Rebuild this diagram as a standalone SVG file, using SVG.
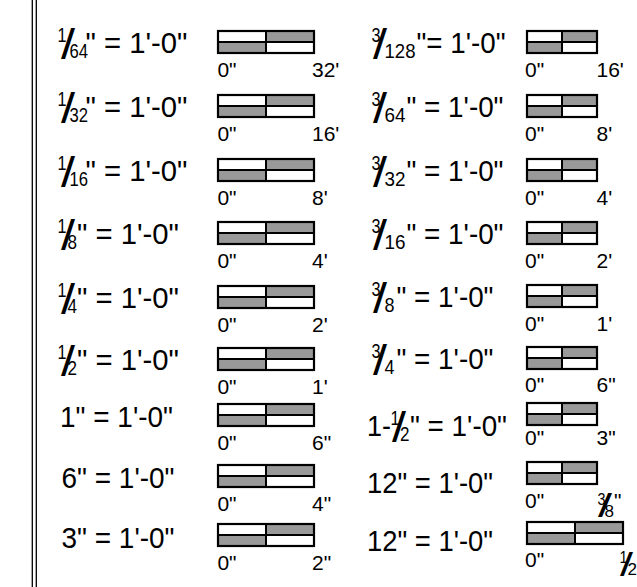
<svg xmlns="http://www.w3.org/2000/svg" xmlns:xlink="http://www.w3.org/1999/xlink" width="637" height="587" viewBox="0 0 637 587">
<style>
text{font-family:"Liberation Sans",Arial,sans-serif;fill:#000}
.m{font-size:30px}
.f{font-size:21px}
.sl{font-size:42px}
.lb{font-size:21px}
.s17{font-size:17px}
.sl2{font-size:33px}
.o{fill:none;stroke:#000;stroke-width:2.2}
.w{fill:#fff}
.g{fill:#999}
.d{stroke:#000;stroke-width:2}
.bd{stroke:#000;stroke-width:1.3}
</style>
<defs>
<g id="barL">
<rect class="w" x="1" y="1" width="96" height="22"/>
<rect class="g" x="49" y="1" width="48" height="11"/>
<rect class="g" x="1" y="12" width="48" height="11"/>
<line class="d" x1="49" y1="1" x2="49" y2="23"/>
<line class="d" x1="1" y1="12" x2="97" y2="12"/>
<rect class="o" x="1" y="1" width="96" height="22"/>
</g>
<g id="barR">
<rect class="w" x="1" y="1" width="70" height="22"/>
<rect class="g" x="36" y="1" width="35" height="11"/>
<rect class="g" x="1" y="12" width="35" height="11"/>
<line class="d" x1="36" y1="1" x2="36" y2="23"/>
<line class="d" x1="1" y1="12" x2="71" y2="12"/>
<rect class="o" x="1" y="1" width="70" height="22"/>
</g>
</defs>
<g id="border">
<line class="bd" x1="32.3" y1="0" x2="32.3" y2="587"/>
<line class="bd" x1="36.3" y1="0" x2="36.3" y2="587"/>
</g>
<g id="connectors"/>

<!-- Left column -->
<g id="L1">
<text class="m"><tspan class="f" x="57.5" y="42" textLength="9" lengthAdjust="spacingAndGlyphs">1</tspan><tspan class="sl" x="61" y="59" textLength="14" lengthAdjust="spacingAndGlyphs">/</tspan><tspan class="f" x="69.5" y="58" textLength="18.5" lengthAdjust="spacingAndGlyphs">64</tspan><tspan x="85.5" y="53" textLength="102" lengthAdjust="spacingAndGlyphs">" = 1'-0"</tspan></text>
<use xlink:href="#barL" x="217" y="30"/>
<text class="lb" x="217.4" y="77">0"</text><text class="lb" x="312" y="77">32'</text>
</g>
<g id="L2">
<text class="m"><tspan class="f" x="57.5" y="106" textLength="9" lengthAdjust="spacingAndGlyphs">1</tspan><tspan class="sl" x="61" y="123" textLength="14" lengthAdjust="spacingAndGlyphs">/</tspan><tspan class="f" x="69.5" y="122" textLength="18.5" lengthAdjust="spacingAndGlyphs">32</tspan><tspan x="85.5" y="117" textLength="102" lengthAdjust="spacingAndGlyphs">" = 1'-0"</tspan></text>
<use xlink:href="#barL" x="217" y="94"/>
<text class="lb" x="217.4" y="141">0"</text><text class="lb" x="312" y="141">16'</text>
</g>
<g id="L3">
<text class="m"><tspan class="f" x="57.5" y="170" textLength="9" lengthAdjust="spacingAndGlyphs">1</tspan><tspan class="sl" x="61" y="187" textLength="14" lengthAdjust="spacingAndGlyphs">/</tspan><tspan class="f" x="69.5" y="186" textLength="18.5" lengthAdjust="spacingAndGlyphs">16</tspan><tspan x="85.5" y="181" textLength="102" lengthAdjust="spacingAndGlyphs">" = 1'-0"</tspan></text>
<use xlink:href="#barL" x="217" y="158"/>
<text class="lb" x="217.4" y="205">0"</text><text class="lb" x="312" y="205">8'</text>
</g>
<g id="L4">
<text class="m"><tspan class="f" x="57.5" y="233" textLength="9" lengthAdjust="spacingAndGlyphs">1</tspan><tspan class="sl" x="61" y="250" textLength="14" lengthAdjust="spacingAndGlyphs">/</tspan><tspan class="f" x="67.5" y="249" textLength="9.5" lengthAdjust="spacingAndGlyphs">8</tspan><tspan x="77" y="244" textLength="102" lengthAdjust="spacingAndGlyphs">" = 1'-0"</tspan></text>
<use xlink:href="#barL" x="217" y="221"/>
<text class="lb" x="217.4" y="268">0"</text><text class="lb" x="312" y="268">4'</text>
</g>
<g id="L5">
<text class="m"><tspan class="f" x="57.5" y="297" textLength="9" lengthAdjust="spacingAndGlyphs">1</tspan><tspan class="sl" x="61" y="314" textLength="14" lengthAdjust="spacingAndGlyphs">/</tspan><tspan class="f" x="67.5" y="313" textLength="9.5" lengthAdjust="spacingAndGlyphs">4</tspan><tspan x="77" y="308" textLength="102" lengthAdjust="spacingAndGlyphs">" = 1'-0"</tspan></text>
<use xlink:href="#barL" x="217" y="285"/>
<text class="lb" x="217.4" y="332">0"</text><text class="lb" x="312" y="332">2'</text>
</g>
<g id="L6">
<text class="m"><tspan class="f" x="57.5" y="359" textLength="9" lengthAdjust="spacingAndGlyphs">1</tspan><tspan class="sl" x="61" y="376" textLength="14" lengthAdjust="spacingAndGlyphs">/</tspan><tspan class="f" x="67.5" y="375" textLength="9.5" lengthAdjust="spacingAndGlyphs">2</tspan><tspan x="77" y="370" textLength="102" lengthAdjust="spacingAndGlyphs">" = 1'-0"</tspan></text>
<use xlink:href="#barL" x="217" y="347"/>
<text class="lb" x="217.4" y="394">0"</text><text class="lb" x="312" y="394">1'</text>
</g>
<g id="L7">
<text class="m" x="60" y="427" textLength="113" lengthAdjust="spacingAndGlyphs">1" = 1'-0"</text>
<use xlink:href="#barL" x="217" y="403"/>
<text class="lb" x="217.4" y="450">0"</text><text class="lb" x="312" y="450">6"</text>
</g>
<g id="L8">
<text class="m" x="61.5" y="488" textLength="113" lengthAdjust="spacingAndGlyphs">6" = 1'-0"</text>
<use xlink:href="#barL" x="217" y="464"/>
<text class="lb" x="217.4" y="511">0"</text><text class="lb" x="312" y="511">4"</text>
</g>
<g id="L9">
<text class="m" x="61.5" y="548" textLength="113" lengthAdjust="spacingAndGlyphs">3" = 1'-0"</text>
<use xlink:href="#barL" x="217" y="523"/>
<text class="lb" x="217.4" y="570">0"</text><text class="lb" x="312" y="570">2"</text>
</g>

<!-- Right column -->
<g id="R1">
<text class="m"><tspan class="f" x="371.5" y="42" textLength="9" lengthAdjust="spacingAndGlyphs">3</tspan><tspan class="sl" x="373" y="59" textLength="14" lengthAdjust="spacingAndGlyphs">/</tspan><tspan class="f" x="384.5" y="58" textLength="31" lengthAdjust="spacingAndGlyphs">128</tspan><tspan x="416.5" y="53" textLength="89" lengthAdjust="spacingAndGlyphs">"= 1'-0"</tspan></text>
<use xlink:href="#barR" x="526" y="30"/>
<text class="lb" x="525" y="77">0"</text><text class="lb" x="596.5" y="77">16'</text>
</g>
<g id="R2">
<text class="m"><tspan class="f" x="371.5" y="106" textLength="9" lengthAdjust="spacingAndGlyphs">3</tspan><tspan class="sl" x="373" y="123" textLength="14" lengthAdjust="spacingAndGlyphs">/</tspan><tspan class="f" x="384.5" y="122" textLength="21" lengthAdjust="spacingAndGlyphs">64</tspan><tspan x="406.5" y="117" textLength="97" lengthAdjust="spacingAndGlyphs">" = 1'-0"</tspan></text>
<use xlink:href="#barR" x="526" y="94"/>
<text class="lb" x="525" y="141">0"</text><text class="lb" x="596.5" y="141">8'</text>
</g>
<g id="R3">
<text class="m"><tspan class="f" x="371.5" y="170" textLength="9" lengthAdjust="spacingAndGlyphs">3</tspan><tspan class="sl" x="373" y="187" textLength="14" lengthAdjust="spacingAndGlyphs">/</tspan><tspan class="f" x="384.5" y="186" textLength="21" lengthAdjust="spacingAndGlyphs">32</tspan><tspan x="406.5" y="181" textLength="97" lengthAdjust="spacingAndGlyphs">" = 1'-0"</tspan></text>
<use xlink:href="#barR" x="526" y="158"/>
<text class="lb" x="525" y="205">0"</text><text class="lb" x="596.5" y="205">4'</text>
</g>
<g id="R4">
<text class="m"><tspan class="f" x="371.5" y="233" textLength="9" lengthAdjust="spacingAndGlyphs">3</tspan><tspan class="sl" x="373" y="250" textLength="14" lengthAdjust="spacingAndGlyphs">/</tspan><tspan class="f" x="384.5" y="249" textLength="21" lengthAdjust="spacingAndGlyphs">16</tspan><tspan x="406.5" y="244" textLength="97" lengthAdjust="spacingAndGlyphs">" = 1'-0"</tspan></text>
<use xlink:href="#barR" x="526" y="221"/>
<text class="lb" x="525" y="268">0"</text><text class="lb" x="596.5" y="268">2'</text>
</g>
<g id="R5">
<text class="m"><tspan class="f" x="371.5" y="296" textLength="9" lengthAdjust="spacingAndGlyphs">3</tspan><tspan class="sl" x="373" y="313" textLength="14" lengthAdjust="spacingAndGlyphs">/</tspan><tspan class="f" x="384.5" y="312" textLength="10" lengthAdjust="spacingAndGlyphs">8</tspan><tspan x="396.5" y="307" textLength="97" lengthAdjust="spacingAndGlyphs">" = 1'-0"</tspan></text>
<use xlink:href="#barR" x="526" y="284"/>
<text class="lb" x="525" y="331">0"</text><text class="lb" x="596.5" y="331">1'</text>
</g>
<g id="R6">
<text class="m"><tspan class="f" x="371.5" y="358" textLength="9" lengthAdjust="spacingAndGlyphs">3</tspan><tspan class="sl" x="373" y="375" textLength="14" lengthAdjust="spacingAndGlyphs">/</tspan><tspan class="f" x="384.5" y="374" textLength="10" lengthAdjust="spacingAndGlyphs">4</tspan><tspan x="396.5" y="369" textLength="97" lengthAdjust="spacingAndGlyphs">" = 1'-0"</tspan></text>
<use xlink:href="#barR" x="526" y="346"/>
<text class="lb" x="525" y="392">0"</text><text class="lb" x="596.5" y="392">6"</text>
</g>
<g id="R7">
<text class="m"><tspan x="367" y="436" textLength="24" lengthAdjust="spacingAndGlyphs">1-</tspan><tspan class="f" x="390.5" y="425" textLength="9" lengthAdjust="spacingAndGlyphs">1</tspan><tspan class="sl" x="392" y="442" textLength="14" lengthAdjust="spacingAndGlyphs">/</tspan><tspan class="f" x="400" y="441" textLength="9.5" lengthAdjust="spacingAndGlyphs">2</tspan><tspan x="410" y="436" textLength="97" lengthAdjust="spacingAndGlyphs">" = 1'-0"</tspan></text>
<use xlink:href="#barR" x="526" y="402"/>
<text class="lb" x="525" y="445">0"</text><text class="lb" x="596.5" y="445">3"</text>
</g>
<g id="R8">
<text class="m" x="367" y="493" textLength="126" lengthAdjust="spacingAndGlyphs">12" = 1'-0"</text>
<use xlink:href="#barR" x="526" y="461"/>
<text class="lb" x="525" y="508">0"</text>
<text class="lb"><tspan class="s17" x="597.5" y="505" textLength="8" lengthAdjust="spacingAndGlyphs">3</tspan><tspan class="sl2" x="598" y="517" textLength="14" lengthAdjust="spacingAndGlyphs">/</tspan><tspan class="s17" x="604.5" y="517" textLength="9.5" lengthAdjust="spacingAndGlyphs">8</tspan><tspan x="614" y="508">"</tspan></text>
</g>
<g id="R9">
<text class="m" x="367" y="551" textLength="126" lengthAdjust="spacingAndGlyphs">12" = 1'-0"</text>
<use xlink:href="#barL" x="526" y="521"/>
<text class="lb" x="525" y="567">0"</text>
<text class="lb"><tspan class="s17" x="619.5" y="563" textLength="8" lengthAdjust="spacingAndGlyphs">1</tspan><tspan class="sl2" x="620" y="576" textLength="13" lengthAdjust="spacingAndGlyphs">/</tspan><tspan class="s17" x="627.5" y="575" textLength="9.5" lengthAdjust="spacingAndGlyphs">2</tspan></text>
</g>
</svg>
